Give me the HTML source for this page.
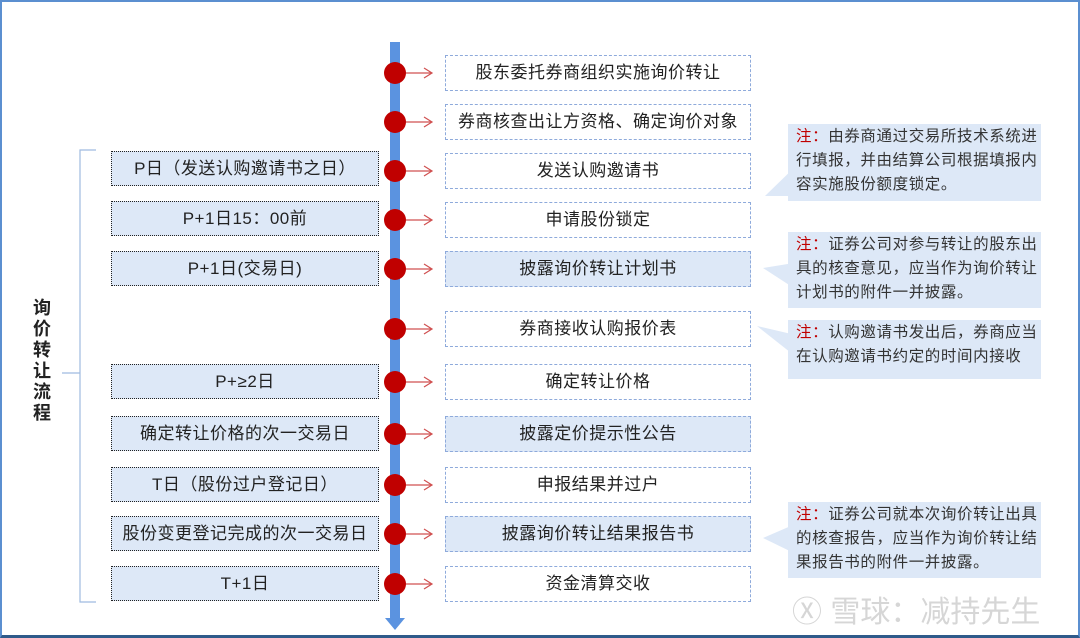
<!DOCTYPE html>
<html><head><meta charset="utf-8"><style>
*{margin:0;padding:0;box-sizing:border-box}
body{width:1080px;height:638px;background:#fff;position:relative;overflow:hidden;font-family:"Liberation Sans","Noto Sans CJK SC",sans-serif;color:#222}
.frame{position:absolute;left:0;top:0;width:1080px;height:638px;border:2px solid #5b8fd0;border-bottom:3px solid #2f5a8a}
.l{position:absolute;left:111px;width:268px;height:35px;background:#dde8f7;border:1px dotted #222;font-size:17px;letter-spacing:0.5px;line-height:33px;text-align:center;white-space:nowrap}
.r{position:absolute;left:445px;width:306px;height:36px;border:1.3px dashed #8eaadb;font-size:17px;letter-spacing:0.5px;line-height:34px;text-align:center;background:#fff;white-space:nowrap}
.r.b{background:#dde8f7}
.n{position:absolute;left:788px;width:253px;background:#dde8f7;font-size:15.5px;letter-spacing:0.6px;line-height:24px;padding:1px 0 0 8px;color:#333}
.n b{color:#c00000;font-weight:normal}
.v{position:absolute;left:30px;top:298px;width:24px;font-size:18px;font-weight:bold;line-height:21px;text-align:center}
.wm{position:absolute;left:792px;top:587px;font-size:30px;color:#d6d6d6;letter-spacing:0px}
</style></head><body>
<div class="frame"></div>
<svg width="1080" height="638" style="position:absolute;left:0;top:0">
<polyline points="96,150 80,150 80,602 96,602" fill="none" stroke="#9fbbe0" stroke-width="1.2"/>
<line x1="62" y1="373" x2="80" y2="373" stroke="#9fbbe0" stroke-width="1.2"/>
<rect x="390" y="42" width="10" height="578" fill="#5b93e0"/>
<polygon points="385,618 405,618 395,630" fill="#5b93e0"/>
<g fill="#dde8f7">
<polygon points="800,162 765,196 800,196"/>
<polygon points="800,262 763,268 800,292"/>
<polygon points="800,336 757,326 800,360"/>
<polygon points="800,522 763,538 800,556"/>
</g>
<g stroke="#d05050" stroke-width="1.2" fill="none">
<path d="M406 73H432M424 68L432 73L424 78"/>
<path d="M406 122H432M424 117L432 122L424 127"/>
<path d="M406 171H432M424 166L432 171L424 176"/>
<path d="M406 220H432M424 215L432 220L424 225"/>
<path d="M406 269H432M424 264L432 269L424 274"/>
<path d="M406 329H432M424 324L432 329L424 334"/>
<path d="M406 382H432M424 377L432 382L424 387"/>
<path d="M406 434H432M424 429L432 434L424 439"/>
<path d="M406 485H432M424 480L432 485L424 490"/>
<path d="M406 534H432M424 529L432 534L424 539"/>
<path d="M406 584H432M424 579L432 584L424 589"/>
</g>
<g fill="#c00000">
<circle cx="395" cy="73" r="11"/><circle cx="395" cy="122" r="11"/><circle cx="395" cy="171" r="11"/>
<circle cx="395" cy="220" r="11"/><circle cx="395" cy="269" r="11"/><circle cx="395" cy="329" r="11"/>
<circle cx="395" cy="382" r="11"/><circle cx="395" cy="434" r="11"/><circle cx="395" cy="485" r="11"/>
<circle cx="395" cy="534" r="11"/><circle cx="395" cy="584" r="11"/>
</g>
</svg>
<div class="v">询<br>价<br>转<br>让<br>流<br>程</div>

<div class="l" style="top:151px">P日（发送认购邀请书之日）</div>
<div class="l" style="top:201px">P+1日15：00前</div>
<div class="l" style="top:251px">P+1日(交易日)</div>
<div class="l" style="top:364px">P+≥2日</div>
<div class="l" style="top:416px">确定转让价格的次一交易日</div>
<div class="l" style="top:467px">T日（股份过户登记日）</div>
<div class="l" style="top:516px">股份变更登记完成的次一交易日</div>
<div class="l" style="top:566px">T+1日</div>

<div class="r" style="top:55px">股东委托券商组织实施询价转让</div>
<div class="r" style="top:104px">券商核查出让方资格、确定询价对象</div>
<div class="r" style="top:153px">发送认购邀请书</div>
<div class="r" style="top:202px">申请股份锁定</div>
<div class="r b" style="top:251px">披露询价转让计划书</div>
<div class="r" style="top:311px">券商接收认购报价表</div>
<div class="r" style="top:364px">确定转让价格</div>
<div class="r b" style="top:416px">披露定价提示性公告</div>
<div class="r" style="top:467px">申报结果并过户</div>
<div class="r b" style="top:516px">披露询价转让结果报告书</div>
<div class="r" style="top:566px">资金清算交收</div>

<div class="n" style="top:124px;height:77px"><b>注：</b>由券商通过交易所技术系统进<br>行填报，并由结算公司根据填报内<br>容实施股份额度锁定。</div>
<div class="n" style="top:232px;height:76px"><b>注：</b>证券公司对参与转让的股东出<br>具的核查意见，应当作为询价转让<br>计划书的附件一并披露。</div>
<div class="n" style="top:320px;height:59px"><b>注：</b>认购邀请书发出后，券商应当<br>在认购邀请书约定的时间内接收</div>
<div class="n" style="top:502px;height:76px"><b>注：</b>证券公司就本次询价转让出具<br>的核查报告，应当作为询价转让结<br>果报告书的附件一并披露。</div>
<div class="wm">Ⓧ 雪球：减持先生</div>
</body></html>
